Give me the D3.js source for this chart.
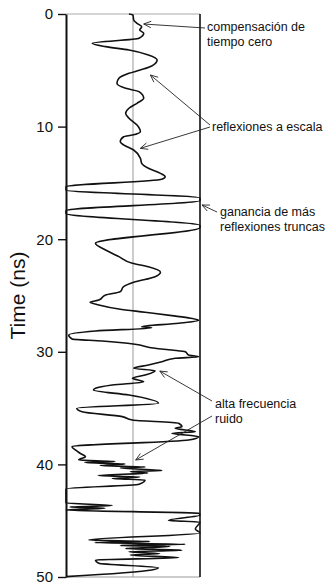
<!DOCTYPE html>
<html>
<head>
<meta charset="utf-8">
<script src="https://cdn.jsdelivr.net/npm/d3@7/dist/d3.min.js"></script>
<style>
  html, body { margin: 0; padding: 0; background: #fff; }
  svg { display: block; font-family: "Liberation Sans", Arial, sans-serif; }
</style>
</head>
<body>
<svg id="chart" width="331" height="587"></svg>
<script>
// Two-way travel time (ns) of each digitised sample of the trace
const traceTime = [
  0, 0.1, 0.53, 0.83, 1.13, 1.42, 1.71, 2.16, 2.60, 2.90,
  3.20, 3.64, 4.09, 4.62, 4.97, 5.27, 5.71, 6.15, 6.60, 6.90,
  7.49, 7.93, 8.37, 8.82, 9.26, 9.86, 10.45, 10.75, 10.90, 11.34,
  11.63, 12.08, 12.82, 13.26, 13.70, 14.15, 14.45, 14.68, 15.34, 15.63,
  16.34, 16.56, 17.47, 17.72, 18.78, 18.96, 20.36, 20.96, 21.55, 22.14,
  22.44, 22.94, 23.33, 23.83, 24.22, 24.66, 24.96, 25.40, 25.60, 25.84,
  26.20, 26.49, 26.79, 27.02, 27.20, 27.47, 27.77, 27.86, 28.15, 28.51,
  28.86, 29.04, 29.33, 29.69, 29.84, 29.99, 30.28, 30.44, 30.58, 30.88,
  31.17, 31.47, 31.68, 32.06, 32.35, 32.66, 32.95, 33.24, 33.39, 33.84,
  34.57, 35.02, 35.32, 35.76, 36.06, 36.35, 36.65, 36.79, 37.09, 37.24,
  37.54, 37.83, 38.43, 38.72, 39.01, 39.32, 39.60, 39.74, 39.83, 39.96,
  40.10, 40.23, 40.32, 40.54, 40.63, 40.76, 40.99, 41.12, 41.26, 41.39,
  41.77, 42.18, 43.43, 43.65, 43.78, 43.90, 44.05, 44.34, 44.49, 44.98,
  45.12, 45.74, 46.09, 46.71, 46.85, 46.94, 47.10, 47.20, 47.29, 47.47,
  47.62, 47.76, 47.92, 48.05, 48.29, 48.49, 48.78, 49.18, 49.38, 49.97
];

// Normalised amplitude of each sample (clipped at ±1 by the display gain)
const traceAmp = [
  -0.06, 0.00, 0.01, 0.06, 0.13, 0.10, 0.16, 0.09, -0.61, -0.41,
  -0.06, 0.23, 0.36, 0.28, 0.11, -0.06, -0.21, -0.24, -0.11, 0.09,
  0.16, 0.06, -0.06, -0.11, -0.06, 0.06, 0.11, -0.01, -0.14, -0.19,
  -0.14, 0.01, 0.11, 0.13, 0.23, 0.41, 0.48, 0.43, -1, -1,
  1, 1, -1, -1, 1, 1, -0.56, -0.41, -0.21, -0.01,
  0.23, 0.41, 0.33, 0.01, -0.14, -0.19, -0.41, -0.51, -0.64, -0.51,
  -0.21, 0.18, 0.58, 0.86, 0.98, 0.68, 0.13, 0.28, -0.56, -0.96,
  -0.91, -0.46, 0.03, 0.33, 0.58, 0.78, 0.83, 0.98, 0.63, 0.43,
  0.23, 0.01, 0.33, 0.18, -0.01, 0.16, -0.31, -0.56, -0.59, -0.06,
  0.38, -0.84, -0.76, -0.16, -0.01, 0.68, 0.73, 0.63, 0.93, 0.58,
  0.98, 0.83, -0.91, -0.86, -0.79, -0.71, -0.81, -0.27, -0.72, -0.12,
  -0.49, 0.18, -0.19, 0.43, -0.04, 0.22, -0.52, 0.10, -0.31, 0.18,
  0.09, -1, -1, -0.31, -0.94, -0.42, -1, 0.98, 1, 0.53,
  1, 0.93, 1, -0.66, 0.25, -0.57, 0.78, -0.19, 0.55, -0.11,
  0.73, -0.06, 0.40, -0.04, 0.68, -0.56, -0.51, 0.38, 0.28, -1
];

const timeTicks = [0, 10, 20, 30, 40, 50];
const axisTitle = "Time (ns)";

// Annotation texts and the (time, amplitude) points their arrows point to
const noteLines = [
  ["compensación de", "tiempo cero"],
  ["reflexiones a escala"],
  ["ganancia de más", "reflexiones truncas"],
  ["alta frecuencia", "ruido"]
];
const arrowTime = [0.89, 5.42, 11.93, 16.96, 31.71, 39.61];
const arrowAmp  = [0.16, 0.26, 0.11, 1.03, 0.40, 0.04];
const arrowNote = [0, 1, 1, 2, 3, 3];

const svg = d3.select("#chart");
const plotTop = 14, plotBottom = 577, plotLeft = 66, plotRight = 200;

const y = d3.scaleLinear().domain([0, 50]).range([plotTop, plotBottom]);
const x = d3.scaleLinear().domain([-1, 1]).range([plotLeft, plotRight]);

// frame: light top/bottom edges, centre (zero-amplitude) line, black right edge
svg.append("line").attr("x1", plotLeft).attr("x2", plotRight).attr("y1", plotTop).attr("y2", plotTop)
  .attr("stroke", "#aaa").attr("stroke-width", 1.2);
svg.append("line").attr("x1", plotLeft).attr("x2", plotRight).attr("y1", plotBottom).attr("y2", plotBottom)
  .attr("stroke", "#999").attr("stroke-width", 1.2);
svg.append("line").attr("x1", x(0)).attr("x2", x(0)).attr("y1", plotTop).attr("y2", plotBottom)
  .attr("stroke", "#999").attr("stroke-width", 1);
svg.append("line").attr("x1", plotRight).attr("x2", plotRight).attr("y1", plotTop).attr("y2", plotBottom)
  .attr("stroke", "#111").attr("stroke-width", 1.6);

// trace
const samples = traceTime.map((t, i) => ({ t, a: traceAmp[i] }));
const line = d3.line()
  .x(d => x(d.a))
  .y(d => y(d.t))
  .curve(d3.curveMonotoneY);
svg.append("path")
  .datum(samples)
  .attr("d", line)
  .attr("fill", "none")
  .attr("stroke", "#111")
  .attr("stroke-width", 1.6)
  .attr("stroke-linejoin", "round");

// time axis
const axis = d3.axisLeft(y).tickValues(timeTicks).tickSize(8).tickSizeOuter(0).tickPadding(5);
const gAxis = svg.append("g").attr("transform", `translate(${plotLeft},0)`).call(axis);
gAxis.select(".domain").attr("stroke", "#111").attr("stroke-width", 2);
gAxis.selectAll(".tick line").attr("stroke", "#111").attr("stroke-width", 1.4);
gAxis.selectAll(".tick text")
  .attr("fill", "#111")
  .style("font-size", "15px")
  .style("font-family", "'Liberation Sans', Arial, sans-serif");

svg.append("text")
  .attr("transform", `translate(25,${(plotTop + plotBottom) / 2}) rotate(-90)`)
  .attr("text-anchor", "middle")
  .attr("fill", "#111")
  .style("font-size", "21px")
  .text(axisTitle);

// annotation text blocks
const notePos = [
  { x: 207, y: 31, tail: [[205, 28]] },
  { x: 212, y: 131, tail: [[210, 125], [210, 127]] },
  { x: 220, y: 216, tail: [[217, 212]] },
  { x: 215, y: 408, tail: [[212, 401], [212, 416]] }
];
noteLines.forEach((lines, i) => {
  const t = svg.append("text")
    .attr("x", notePos[i].x).attr("y", notePos[i].y)
    .attr("fill", "#111")
    .style("font-size", "12.5px");
  lines.forEach((s, j) => {
    t.append("tspan").attr("x", notePos[i].x).attr("dy", j === 0 ? 0 : 14.5).text(s);
  });
});

// arrows with open heads
const tailUse = [0, 0, 0, 0];
arrowTime.forEach((tt, k) => {
  const n = arrowNote[k];
  const tail = notePos[n].tail[tailUse[n]++];
  const tx = x(arrowAmp[k]), ty = y(tt);
  const ang = Math.atan2(tail[1] - ty, tail[0] - tx);
  svg.append("line")
    .attr("x1", tail[0]).attr("y1", tail[1]).attr("x2", tx).attr("y2", ty)
    .attr("stroke", "#222").attr("stroke-width", 0.9);
  const L = 8, spread = 0.42;
  const p1 = [tx + L * Math.cos(ang - spread), ty + L * Math.sin(ang - spread)];
  const p2 = [tx + L * Math.cos(ang + spread), ty + L * Math.sin(ang + spread)];
  svg.append("path")
    .attr("d", `M${p1[0]},${p1[1]}L${tx},${ty}L${p2[0]},${p2[1]}`)
    .attr("fill", "none").attr("stroke", "#222").attr("stroke-width", 0.9);
});
</script>
</body>
</html>
